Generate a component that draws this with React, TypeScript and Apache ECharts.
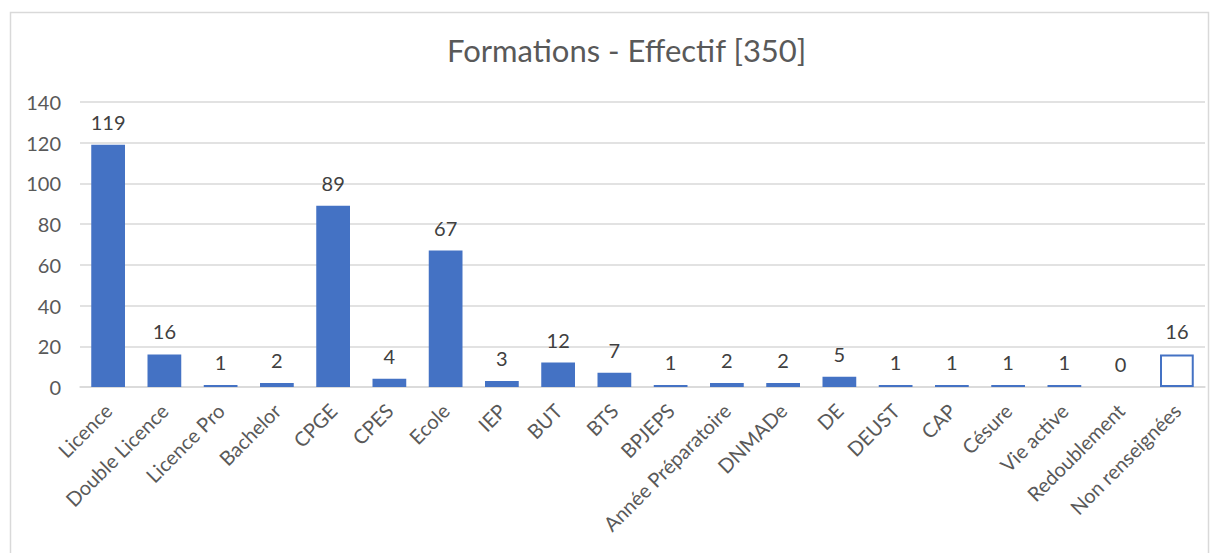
import React, { useEffect, useRef } from "react";
import * as echarts from "echarts";

const categories = [
  "Licence", "Double Licence", "Licence Pro", "Bachelor", "CPGE", "CPES", "Ecole", "IEP", "BUT", "BTS",
  "BPJEPS", "Année Préparatoire", "DNMADe", "DE", "DEUST", "CAP", "Césure", "Vie active", "Redoublement", "Non renseignées",
];
const values = [119, 16, 1, 2, 89, 4, 67, 3, 12, 7, 1, 2, 2, 5, 1, 1, 1, 1, 0, 16];
const title = "Formations - Effectif [350]";

export default function App() {
  const ref = useRef<HTMLDivElement>(null);
  useEffect(() => {
    if (!ref.current) return;
    const chart = echarts.init(ref.current, undefined, { renderer: "svg" });
    const font = "Lato, Open Sans, sans-serif";
    chart.setOption({
      animation: false,
      textStyle: { fontFamily: font },
      title: {
        text: title,
        left: 442,
        top: 29,
        textStyle: { fontSize: 31, fontWeight: "normal", color: "#595959", fontFamily: font },
      },
      graphic: [
        {
          type: "rect",
          shape: { x: 10.5, y: 12.5, width: 1198, height: 560 },
          style: { fill: "none", stroke: "#d9d9d9", lineWidth: 1.5 },
          silent: true,
        },
      ],
      grid: { left: 80, right: 12, top: 102, bottom: 166, containLabel: false },
      xAxis: {
        type: "category",
        data: categories,
        axisTick: { show: false },
        axisLine: { lineStyle: { color: "#d9d9d9", width: 1.5 } },
        axisLabel: { rotate: 45, interval: 0, fontSize: 20, color: "#595959", margin: 20, fontFamily: font },
      },
      yAxis: {
        type: "value",
        min: 0,
        max: 140,
        interval: 20,
        axisLine: { show: false },
        axisTick: { show: false },
        splitLine: { lineStyle: { color: "#d9d9d9", width: 1.5 } },
        axisLabel: { fontSize: 20, color: "#595959", margin: 19, fontFamily: font },
      },
      series: [
        {
          type: "bar",
          data: values.map((v, i) =>
            i === values.length - 1
              ? { value: v, itemStyle: { color: "#ffffff", borderColor: "#4472C4", borderWidth: 2 } }
              : v
          ),
          barWidth: "60%",
          itemStyle: { color: "#4472C4" },
          label: { show: true, position: "top", fontSize: 20, color: "#404040", distance: 13, fontFamily: font },
        },
      ],
    });
    return () => chart.dispose();
  }, []);
  return (
    <div
      ref={ref}
      style={{ position: "fixed", left: 0, top: 0, width: 1217, height: 553, background: "#ffffff" }}
    />
  );
}
